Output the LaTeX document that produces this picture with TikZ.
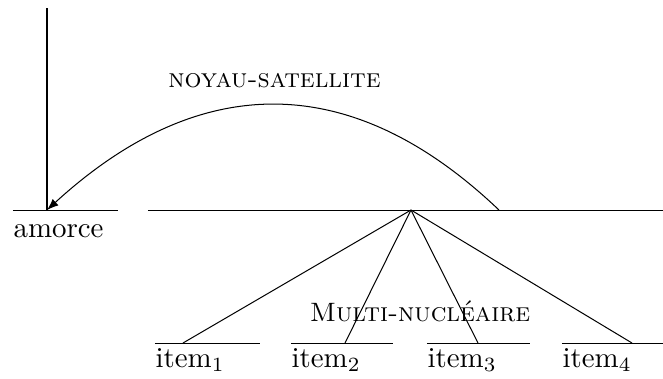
\documentclass[tikz,border=0pt]{standalone}
\usetikzlibrary{arrows.meta}
\begin{document}
\begin{tikzpicture}[x=0.346pt,y=-0.346pt,
  seg/.style={line width=0.35pt},
  txt/.style={inner sep=0pt,font=\fontsize{10}{12}\selectfont},
  sctxt/.style={inner sep=0pt,font=\fontsize{9.2}{11}\selectfont}]
\useasboundingbox (0,0) rectangle (663,378);
% coordinates
\coordinate (top) at (47,8);
\coordinate (am) at (47,210);
\coordinate (amL) at (13,210);
\coordinate (amR) at (118,210);
\coordinate (mainL) at (148,210);
\coordinate (mainR) at (663,210);
\coordinate (arcS) at (499,210);
\coordinate (root) at (411,210);
\coordinate (h1) at (183,343);
\coordinate (h2) at (345,343);
\coordinate (h3) at (478,343);
\coordinate (h4) at (632,343);
\coordinate (l1a) at (155,343); \coordinate (l1b) at (260,343);
\coordinate (l2a) at (291,343); \coordinate (l2b) at (393,343);
\coordinate (l3a) at (427,343); \coordinate (l3b) at (530,343);
\coordinate (l4a) at (562,343); \coordinate (l4b) at (663,343);
% lines
\draw[seg] (top) -- (am);
\draw[seg] (amL) -- (amR);
\draw[seg] (mainL) -- (mainR);
\draw[seg] (l1a) -- (l1b);
\draw[seg] (l2a) -- (l2b);
\draw[seg] (l3a) -- (l3b);
\draw[seg] (l4a) -- (l4b);
\draw[seg] (root) -- (h1);
\draw[seg] (root) -- (h2);
\draw[seg] (root) -- (h3);
\draw[seg] (root) -- (h4);
\draw[seg,-{Latex[length=4pt,width=3pt]}] (arcS) .. controls (352,70) and (200,70) .. (am);
% texts
\node[txt,anchor=base west] (amorce) at (13,237) {amorce};
\node[sctxt,anchor=base] (ns) at (274.5,87) {\textsc{noyau-satellite}};
\node[sctxt,anchor=base] (mn) at (420,321) {\textsc{Multi-nucl\'eaire}};
\node[txt,anchor=base west] (i1) at (155,367) {item$_1$};
\node[txt,anchor=base west] (i2) at (291,367) {item$_2$};
\node[txt,anchor=base west] (i3) at (427,367) {item$_3$};
\node[txt,anchor=base west] (i4) at (562,367) {item$_4$};
\end{tikzpicture}
\end{document}
